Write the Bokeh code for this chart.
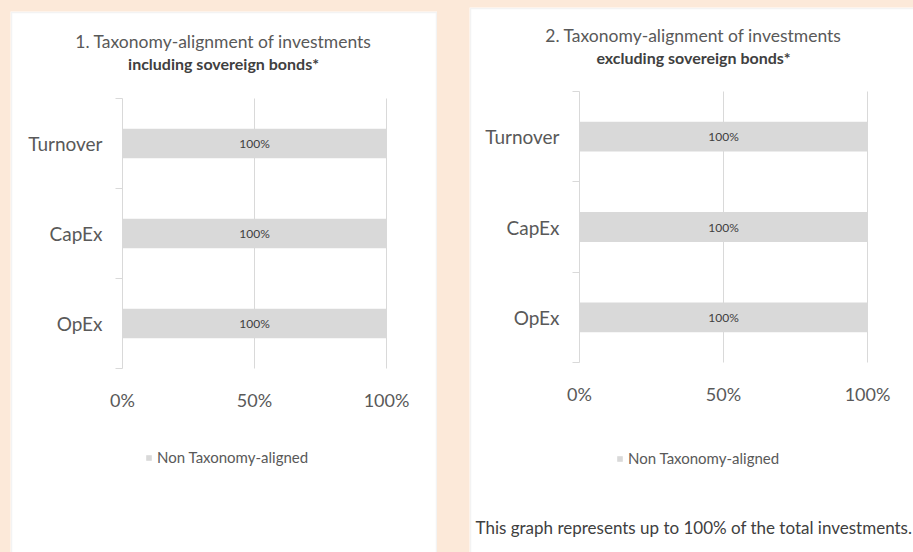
from bokeh.plotting import figure
from bokeh.models import (Range1d, LinearAxis, FixedTicker, PrintfTickFormatter, Label,
                          Legend, LegendItem, ColumnDataSource, GlobalInlineStyleSheet,
                          BoxAnnotation)
from bokeh.layouts import row
from bokeh.core.properties import value
from bokeh.embed import file_html
from bokeh.resources import INLINE

FONT = "Lato"
TEXT = "#595959"
DARK = "#404040"
BAR = "#D9D9D9"
LINE = "#D9D9D9"
PEACH = "#FCE9D9"

categories = ["Turnover", "CapEx", "OpEx"]
values_incl = [100, 100, 100]
values_excl = [100, 100, 100]
x_ticks = [0, 50, 100]
series_name = "Non Taxonomy-aligned"
titles_1 = ["1. Taxonomy-alignment of investments", "including sovereign bonds*"]
titles_2 = ["2. Taxonomy-alignment of investments", "excluding sovereign bonds*"]
footnote = "This graph represents up to 100% of the total investments."


def make_panel(vals, title_lines, width, height, plot_box, title_x, title_ys,
               legend_xy, border_right, note=None, note_xy=None):
    """plot_box = (left, right, top, bottom) of the axes area in panel pixels."""
    n = len(categories)
    pos = [n - i - 0.5 for i in range(n)]       # band centres, first category on top
    edges = list(range(n + 1))                  # band boundaries
    pl, pr, pt, pb = plot_box
    xmax = x_ticks[-1]
    ppx = (pr - pl) / xmax
    ppy = (pb - pt) / n
    x_range = Range1d(-pl / ppx, (width - pl) / ppx)
    y_range = Range1d(-(height - pb) / ppy, pb / ppy)

    p = figure(width=width, height=height, x_range=x_range, y_range=y_range,
               x_axis_location=None, y_axis_location=None,
               output_backend="svg", toolbar_location=None, min_border=0)
    p.background_fill_color = "white"
    p.border_fill_color = "white"
    p.outline_line_color = None
    p.xgrid.visible = False
    p.ygrid.visible = False

    # panel border (bottom / right edges fall outside the window like the reference)
    p.add_layout(BoxAnnotation(left=1, right=border_right, top=height - 1, bottom=-10,
                               left_units="screen", right_units="screen",
                               top_units="screen", bottom_units="screen",
                               fill_color=None, line_color="#D6D6D6", line_width=1.5))

    # vertical gridlines limited to the category bands
    gx = x_ticks[1:]
    p.segment(x0=gx, x1=gx, y0=[edges[0]] * len(gx), y1=[edges[-1]] * len(gx),
              line_color=LINE, line_width=1)

    # x axis
    xa = LinearAxis(ticker=FixedTicker(ticks=x_ticks), fixed_location=0)
    xa.formatter = PrintfTickFormatter(format="%d%%")
    xa.axis_line_color = None
    xa.major_tick_line_color = None
    xa.minor_tick_line_color = None
    xa.major_tick_out = 0
    xa.major_tick_in = 0
    xa.major_label_standoff = 20
    xa.major_label_text_font = FONT
    xa.major_label_text_font_size = "18px"
    xa.major_label_text_color = TEXT
    p.add_layout(xa, "below")

    # band boundary tick axis
    ta = LinearAxis(ticker=FixedTicker(ticks=edges), fixed_location=0,
                    bounds=(edges[0], edges[-1]))
    ta.axis_line_color = LINE
    ta.axis_line_width = 1
    ta.major_tick_line_color = LINE
    ta.major_tick_out = 7
    ta.major_tick_in = 0
    ta.minor_tick_line_color = None
    ta.major_label_overrides = {e: "" for e in edges}
    ta.major_label_text_font_size = "1px"
    p.add_layout(ta, "left")

    # category label axis
    ca = LinearAxis(ticker=FixedTicker(ticks=pos), fixed_location=0)
    ca.major_label_overrides = {y: c for y, c in zip(pos, categories)}
    ca.axis_line_color = None
    ca.major_tick_line_color = None
    ca.minor_tick_line_color = None
    ca.major_tick_out = 0
    ca.major_tick_in = 0
    ca.major_label_standoff = 20
    ca.major_label_text_font = FONT
    ca.major_label_text_font_size = "19px"
    ca.major_label_text_color = TEXT
    p.add_layout(ca, "left")

    src = ColumnDataSource(dict(y=pos, val=vals,
                                mid=[v / 2 for v in vals],
                                lab=[f"{v}%" for v in vals]))
    r = p.hbar(y="y", left=0, right="val", height=0.33, source=src,
               fill_color=BAR, line_color=None)
    p.text(x="mid", y="y", text="lab", source=src, text_align="center",
           text_baseline="middle", text_font=value(FONT), text_font_size="12px",
           text_color=DARK)

    sizes = ["17.5px", "16px"]
    for i, (t, y) in enumerate(zip(title_lines, title_ys)):
        p.add_layout(Label(x=title_x, y=y, x_units="screen", y_units="screen", text=t,
                           text_align="center", text_baseline="middle", text_font=FONT,
                           text_font_size=sizes[i], text_color=TEXT if i == 0 else DARK,
                           text_font_style="normal" if i == 0 else "bold"))

    leg = Legend(items=[LegendItem(label=series_name, renderers=[r])],
                 location=legend_xy, orientation="horizontal",
                 glyph_width=7, glyph_height=7, label_standoff=5, padding=0, margin=0,
                 label_height=16, border_line_color=None, background_fill_alpha=0,
                 label_text_font=FONT, label_text_font_size="15px", label_text_color=TEXT)
    p.add_layout(leg, "center")

    if note:
        p.add_layout(Label(x=note_xy[0], y=note_xy[1], x_units="screen", y_units="screen",
                           text=note, text_align="left", text_baseline="middle",
                           text_font=FONT, text_font_size="17px", text_color=DARK))
    return p


# panel 1: page x 10..436, y 11..552 ; axes area x 122..386, y 98..368
p1 = make_panel(values_incl, titles_1, 427, 541, (112, 376, 87, 357),
                title_x=213, title_ys=[511, 489], legend_xy=(135, 86), border_right=426)
p1.margin = (11, 0, 0, 10)

# panel 2: page x 469..913, y 7..552 ; axes area x 579..867, y 91..362
p2 = make_panel(values_excl, titles_2, 444, 545, (110, 398, 84, 355),
                title_x=224, title_ys=[517, 495], legend_xy=(147, 85), border_right=460,
                note=footnote, note_xy=(6, 25))
p2.margin = (7, 0, 0, 32)

layout = row(p1, p2)
layout.stylesheets = [GlobalInlineStyleSheet(css=f"html, body {{ background: {PEACH}; }}")]

open("out.html", "w").write(file_html(layout, INLINE))
